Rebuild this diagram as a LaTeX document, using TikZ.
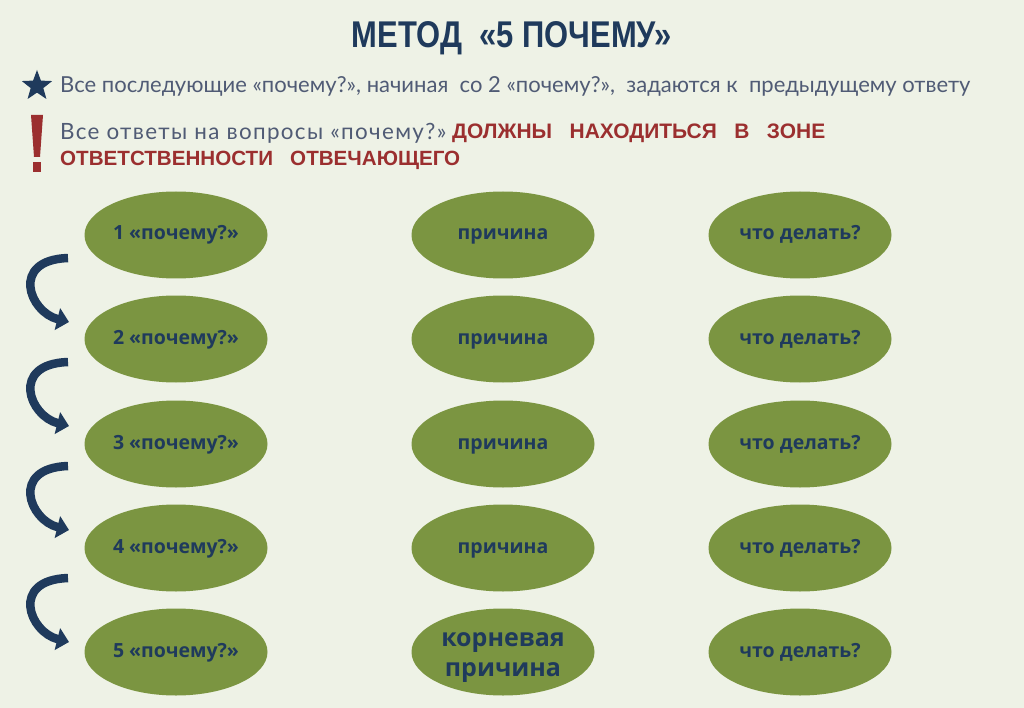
\documentclass[tikz,border=0pt]{standalone}
\usepackage{fontspec}
\setmainfont{Open Sans}
\newfontfamily\titlefont{Liberation Sans}
\newfontfamily\lightfont{Lato}
\newfontfamily\spacedfont[LetterSpace=6]{Lato}
\newfontfamily\boldfont{Open Sans}
\usetikzlibrary{shapes.geometric,arrows.meta}
\definecolor{bgc}{HTML}{EEF2E6}
\definecolor{olive}{HTML}{7B9541}
\definecolor{navy}{HTML}{1F3A5C}
\definecolor{greytxt}{HTML}{505B75}
\definecolor{redtxt}{HTML}{9B2F2F}
\tikzset{
  ovalbase/.style={ellipse, fill=olive, minimum width=183pt, minimum height=87pt, inner sep=0pt,
    text=navy, align=center},
  oval/.style={ovalbase, font=\boldfont\bfseries\fontsize{19.5}{22}\selectfont, text height=13pt, text depth=3pt},
  bigtext/.style={inner sep=0pt, text=navy, align=center, font=\boldfont\bfseries\fontsize{25}{30}\selectfont},
  curvearrow/.style={draw=navy, line width=8.5pt, -{Triangle[length=12pt,width=22pt]}},
}
\begin{document}
\begin{tikzpicture}[x=1pt,y=-1pt]
\fill[bgc] (0,0) rectangle (1024,708);
\useasboundingbox (0,0) rectangle (1024,708);
% title
\node (title) at (512,38) {\titlefont\bfseries\color{navy}\resizebox{320pt}{26pt}{МЕТОД\ \ «5 ПОЧЕМУ»}};
% star line
\node[star, star points=5, star point ratio=2.4, fill=navy, minimum size=32pt, inner sep=0pt] (starshape) at (37,86) {};
\node[anchor=west, inner sep=0pt, text=greytxt] (line1) at (60,86) {\lightfont\resizebox{910pt}{!}{Все последующие «почему?», начиная\ \ со 2\ «почему?»,\ \ задаются\ к\ \ предыдущему ответу}};
% exclamation
\fill[redtxt] (31,115) -- (43,115) -- (40,157) -- (34,157) -- cycle;
\fill[redtxt] (33,162) rectangle (41,172);
\node[anchor=west, inner sep=0pt, text=greytxt] (line2a) at (60,133) {\spacedfont\resizebox{386pt}{!}{Все ответы на вопросы «почему?»}};
\node[anchor=west, inner sep=0pt, text=redtxt] (line2b) at (452,133) {\titlefont\bfseries\resizebox{373pt}{!}{ДОЛЖНЫ\ \ \ НАХОДИТЬСЯ\ \ \ В\ \ \ ЗОНЕ}};
\node[anchor=west, inner sep=0pt, text=redtxt] (line3) at (60,160) {\titlefont\bfseries\resizebox{400pt}{!}{ОТВЕТСТВЕННОСТИ\ \ \ ОТВЕЧАЮЩЕГО}};
% ovals
\foreach \i/\y in {1/235,2/339,3/444,4/548,5/652}{
  \node[oval] (q\i) at (176,\y) {\i\ «почему?»};
  \node[oval] (d\i) at (800,\y) {что делать?};
}
\foreach \i/\y in {1/235,2/339,3/444,4/548}{
  \node[oval] (c\i) at (503,\y) {причина};
}
\node[ovalbase] (c5) at (503,652) {};
\node[bigtext] (c5t) at ([yshift=-6pt]c5.center) {корневая\\причина};
% arrows
\coordinate (a1) at (68,258); \coordinate (b1) at (69,322);
\coordinate (a2) at (68,362); \coordinate (b2) at (69,426);
\coordinate (a3) at (68,466); \coordinate (b3) at (69,530);
\coordinate (a4) at (68,578); \coordinate (b4) at (69,642);
\foreach \i in {1,2,3,4}{
  \draw[curvearrow] (a\i) .. controls +(-58,2) and +(-40,-10) .. (b\i);
}
\end{tikzpicture}
\end{document}
